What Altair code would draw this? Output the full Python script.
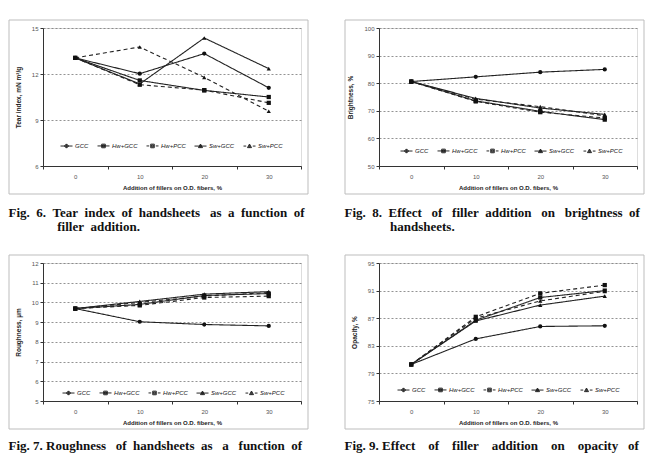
import altair as alt
import pandas as pd

x_cats = ["0", "10", "20", "30"]
series = ["GCC", "Hw+GCC", "Hw+PCC", "Sw+GCC", "Sw+PCC"]

# Fig. 6 tear index
tear_gcc = [13.05, 12.02, 13.33, 11.10]
tear_hw_gcc = [13.05, 11.58, 10.93, 10.50]
tear_hw_pcc = [13.05, 11.30, 10.95, 10.12]
tear_sw_gcc = [13.05, 11.35, 14.35, 12.35]
tear_sw_pcc = [13.05, 13.76, 11.78, 9.57]

# Fig. 8 brightness
bright_gcc = [80.6, 82.3, 84.0, 85.0]
bright_hw_gcc = [80.6, 73.6, 69.8, 66.8]
bright_hw_pcc = [80.6, 73.4, 69.5, 67.4]
bright_sw_gcc = [80.6, 74.5, 71.0, 68.7]
bright_sw_pcc = [80.6, 74.2, 71.5, 68.2]

# Fig. 7 roughness
rough_gcc = [9.69, 9.02, 8.88, 8.81]
rough_hw_gcc = [9.69, 9.90, 10.35, 10.45]
rough_hw_pcc = [9.69, 9.85, 10.25, 10.32]
rough_sw_gcc = [9.69, 10.05, 10.42, 10.55]
rough_sw_pcc = [9.69, 10.00, 10.32, 10.50]

# Fig. 9 opacity
opac_gcc = [80.3, 84.0, 85.8, 85.9]
opac_hw_gcc = [80.3, 86.7, 90.0, 91.0]
opac_hw_pcc = [80.3, 87.2, 90.6, 91.8]
opac_sw_gcc = [80.3, 86.6, 88.9, 90.2]
opac_sw_pcc = [80.3, 87.0, 89.5, 90.9]

NB = "\u00a0"
ZW = "\u200b"
W, H = 258, 138

line_dash = [[1, 0], [1, 0], [4, 3], [1, 0], [4, 3]]
point_shapes = ["circle", "square", "square", "triangle-up", "triangle-up"]

circ = (
    "M0.277,0.115L0.115,0.277L-0.115,0.277L-0.277,0.115L-0.277,-0.115L-0.115,-0.277L0.115,-0.277L0.277,-0.115Z"
    "M0.14,0.06L0.06,0.14L-0.06,0.14L-0.14,0.06L-0.14,-0.06L-0.06,-0.14L0.06,-0.14L0.14,-0.06Z"
    "M-0.05,0L0.05,0"
)
sq = "M-0.3,-0.3L0.3,-0.3L0.3,0.3L-0.3,0.3ZM-0.15,-0.15L0.15,-0.15L0.15,0.15L-0.15,0.15ZM-0.05,0L0.05,0"
tri = "M0,-0.34L0.34,0.26L-0.34,0.26ZM0,-0.12L0.14,0.14L-0.14,0.14Z"
solid = "M-1,0L1,0"
dashed = "M-1,0L-0.55,0M0.55,0L1,0"
legend_paths = [solid + circ, solid + sq, dashed + sq, solid + tri, dashed + tri]


def gap(n):
    return NB * n


def panel(vals, ydom, yticks, ytitle, lx, ly, caption, cap_offset):
    rows = []
    for s, arr in zip(series, vals):
        for xc, v in zip(x_cats, arr):
            rows.append({"x": xc, "s": s, "v": v})
    df = pd.DataFrame(rows)

    xenc = alt.X(
        "x:O",
        sort=x_cats,
        bandPosition=0.5,
        scale=alt.Scale(type="band", paddingInner=0, paddingOuter=0),
        axis=alt.Axis(
            title="Addition of fillers on O.D. fibers, %",
            labelAngle=0,
            tickBand="extent",
            labelFont="Liberation Sans",
            labelFontSize=6,
            labelColor="#555",
            labelPadding=4,
            titleFont="Liberation Sans",
            titleFontSize=6,
            titleFontWeight="bold",
            titleColor="#222",
            titlePadding=5,
            domainColor="#333",
            tickColor="#333",
            tickSize=3,
        ),
    )
    yenc = alt.Y(
        "v:Q",
        scale=alt.Scale(domain=ydom, nice=False, zero=False),
        axis=alt.Axis(
            title=ytitle,
            values=yticks,
            grid=True,
            gridDash=[2, 2],
            gridColor="#777",
            gridWidth=0.8,
            labelFont="Liberation Sans",
            labelFontSize=6,
            labelColor="#555",
            labelPadding=2,
            titleFont="Liberation Sans",
            titleFontSize=6.5,
            titleFontWeight="bold",
            titleColor="#222",
            titlePadding=10,
            domainColor="#333",
            tickColor="#333",
            tickSize=3,
        ),
    )

    frame = alt.Chart(pd.DataFrame({"a": [0]})).mark_rect(
        fillOpacity=0, stroke="#bdbdbd", strokeWidth=1
    ).encode(
        x=alt.value(-34), x2=alt.value(W + 7), y=alt.value(-8), y2=alt.value(H + 28)
    )

    base = alt.Chart(df)
    lines = base.mark_line(color="#222", strokeWidth=1.1).encode(
        x=xenc,
        y=yenc,
        detail="s:N",
        strokeDash=alt.StrokeDash(
            "s:N", scale=alt.Scale(domain=series, range=line_dash), legend=None
        ),
    )
    points = base.mark_point(filled=True, color="#111", opacity=1, size=18).encode(
        x=xenc,
        y=yenc,
        shape=alt.Shape(
            "s:N", scale=alt.Scale(domain=series, range=point_shapes), legend=None
        ),
    )
    leg = base.transform_filter("datum.v < -1000").mark_point(
        filled=False, color="#111", strokeWidth=0.9, opacity=1
    ).encode(
        x=xenc,
        y=yenc,
        shape=alt.Shape(
            "s:N",
            scale=alt.Scale(domain=series, range=legend_paths),
            legend=alt.Legend(
                title=None,
                orient="none",
                legendX=lx,
                legendY=ly,
                direction="horizontal",
                labelFont="Liberation Sans",
                labelFontSize=6,
                labelFontStyle="italic",
                labelColor="#222",
                symbolSize=144,
                symbolOpacity=1,
                symbolStrokeColor="#111",
                symbolStrokeWidth=0.9,
                labelOffset=2,
                columnPadding=6,
                padding=0,
            ),
        ),
    )
    return (
        alt.layer(frame, lines, points, leg)
        .resolve_scale(shape="independent")
        .properties(
            width=W,
            height=H,
            title=alt.TitleParams(
                text=caption,
                orient="bottom",
                anchor="start",
                font="Liberation Serif",
                fontSize=13,
                fontWeight="bold",
                color="#111",
                lineHeight=14,
                offset=cap_offset,
            ),
        )
    )


cap6 = [
    "Fig." + gap(2) + "6." + gap(2) + "Tear" + gap(2) + "index" + gap(2) + "of" + gap(2)
    + "handsheets" + gap(3) + "as" + gap(2) + "a" + gap(2) + "function" + gap(2) + "of",
    ZW + gap(15) + "filler" + gap(2) + "addition.",
]
cap8 = [
    "Fig." + gap(2) + "8." + gap(2) + "Effect" + gap(3) + "of" + gap(3) + "filler" + gap(2)
    + "addition" + gap(3) + "on" + gap(3) + "brightness" + gap(2) + "of",
    ZW + gap(14) + "handsheets.",
]
cap7 = [
    "Fig." + gap(1) + "7." + gap(1) + "Roughness" + gap(3) + "of" + gap(2) + "handsheets"
    + gap(2) + "as" + gap(3) + "a" + gap(3) + "function" + gap(2) + "of",
]
cap9 = [
    "Fig." + gap(1) + "9." + gap(1) + "Effect" + gap(4) + "of" + gap(4) + "filler" + gap(4)
    + "addition" + gap(4) + "on" + gap(4) + "opacity" + gap(3) + "of",
]

p6 = panel(
    [tear_gcc, tear_hw_gcc, tear_hw_pcc, tear_sw_gcc, tear_sw_pcc],
    [6, 15], [6, 9, 12, 15], "Tear index, mN m²/g", 17, 111, cap6, 12,
)
p8 = panel(
    [bright_gcc, bright_hw_gcc, bright_hw_pcc, bright_sw_gcc, bright_sw_pcc],
    [50, 100], [50, 60, 70, 80, 90, 100], "Brightness, %", 21, 116, cap8, 12,
)
p7 = panel(
    [rough_gcc, rough_hw_gcc, rough_hw_pcc, rough_sw_gcc, rough_sw_pcc],
    [5, 12], [5, 6, 7, 8, 9, 10, 11, 12], "Roughness, µm", 19, 123, cap7, 10,
)
p9 = panel(
    [opac_gcc, opac_hw_gcc, opac_hw_pcc, opac_sw_gcc, opac_sw_pcc],
    [75, 95], [75, 79, 83, 87, 91, 95], "Opacity, %", 18, 120, cap9, 10,
)

row1 = alt.hconcat(p6, p8, spacing=35)
row2 = alt.hconcat(p7, p9, spacing=35)
chart = (
    alt.vconcat(row1, row2, spacing=20)
    .properties(padding={"left": 8, "top": 19, "right": 0, "bottom": 0})
    .configure_view(stroke="#555", strokeWidth=1)
    .configure(background="white")
)

chart.save("out.html", embed_options={"renderer": "svg", "actions": False})
